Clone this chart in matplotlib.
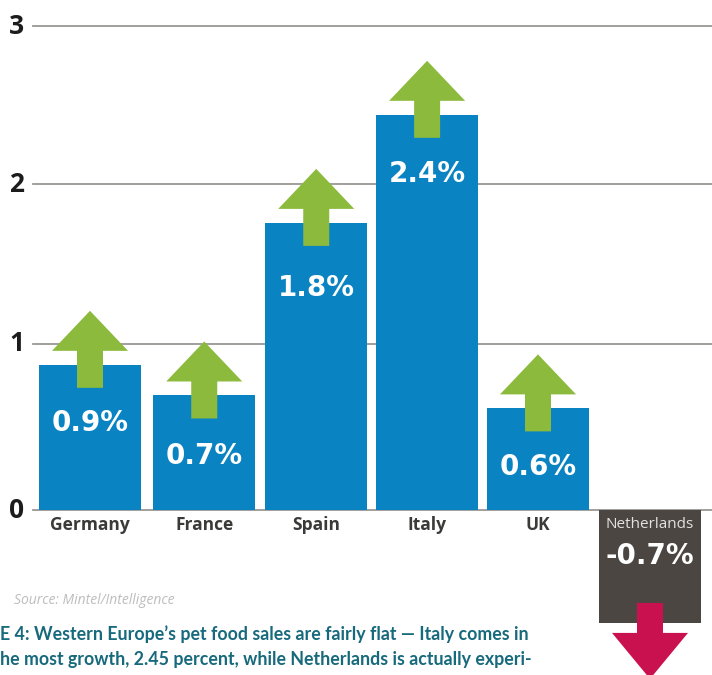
"""Western Europe pet food sales growth, bars with up/down arrows."""

import matplotlib

matplotlib.use("Agg")
import matplotlib.pyplot as plt

WIDTH, HEIGHT = 712, 675

countries = ["Germany", "France", "Spain", "Italy", "UK", "Netherlands"]
growth = [0.90, 0.71, 1.78, 2.45, 0.63, -0.70]
growth_labels = ["0.9%", "0.7%", "1.8%", "2.4%", "0.6%", "-0.7%"]
tick_labels = ["0", "1", "2", "3"]
source = "Source: Mintel/Intelligence"
caption = [
    "E 4: Western Europe’s pet food sales are fairly flat — Italy comes in",
    "he most growth, 2.45 percent, while Netherlands is actually experi-",
]

BLUE = "#0a83c2"
GREEN = "#8cba3c"
RED = "#c9114f"
DARK = "#4b4641"
TEAL = "#17697c"

# pixels per unit on each axis, zero sits at y=510, first bar centre at x=90
PX_X = 112.0
PX_Y = 161.3
X0 = 90.0
Y0 = 510.0

# the source picture is a bit uneven, so layout is nudged per item
BAR_SLOTS = [0, 1.02, 2.02, 3.01, 4, 5]
GRID_LEVELS = [0, 1.03, 2.02, 3]
LABEL_DROP_PX = [58, 61, 65, 59, 59, 46]


def draw_arrow(ax, x, base, direction, color):
    """Arrow with its shaft anchored on the end of a bar."""
    half_head = 38 / PX_X
    half_shaft = 13 / PX_X
    tail = base - direction * (23 if direction > 0 else 20) / PX_Y
    neck = base + direction * (14 if direction > 0 else 10) / PX_Y
    tip = base + direction * (54 if direction > 0 else 56) / PX_Y
    xs = [x - half_shaft, x - half_shaft, x - half_head, x, x + half_head, x + half_shaft, x + half_shaft]
    ys = [tail, neck, neck, tip, neck, neck, tail]
    ax.fill(xs, ys, color=color, lw=0, zorder=4)


def main():
    fig = plt.figure(figsize=(WIDTH / 100, HEIGHT / 100), dpi=100, facecolor="white")
    ax = fig.add_axes([0, 0, 1, 1])
    ax.set_xlim(-X0 / PX_X, (WIDTH - X0) / PX_X)
    ax.set_ylim(-(HEIGHT - Y0) / PX_Y, Y0 / PX_Y)
    ax.axis("off")

    line_start = -0.51
    for level, label in zip(GRID_LEVELS, tick_labels):
        ax.plot([line_start, ax.get_xlim()[1]], [level, level], color="#9a9794", lw=1.3, zorder=1)
        ax.text(-0.655, level, label, ha="center", va="center", fontsize=19, fontweight="bold",
                family="Open Sans", color="#1c1c1c")

    colors = [BLUE if v >= 0 else DARK for v in growth]
    ax.bar(BAR_SLOTS, growth, width=0.91, color=colors, zorder=2)

    for x, value, text, drop, name in zip(BAR_SLOTS, growth, growth_labels, LABEL_DROP_PX, countries):
        up = value >= 0
        draw_arrow(ax, x, value, 1 if up else -1, GREEN if up else RED)
        text_y = value - drop / PX_Y if up else -drop / PX_Y
        ax.text(x, text_y, text, ha="center", va="center", color="white", fontsize=20, fontweight="bold",
                family="DejaVu Sans", zorder=5)
        if up:
            ax.text(x, -0.09, name, ha="center", va="center", color="#3a3a38", fontsize=12.5,
                    fontweight="bold", family="Open Sans")
        else:
            ax.text(x, -0.09, name, ha="center", va="center", color="#e2e2e2", fontsize=11,
                    family="Open Sans", zorder=5)

    fig.text(14 / WIDTH, 1 - 600 / HEIGHT, source, fontsize=10, style="italic", color="#bdbdbd",
             va="center", family="Open Sans")
    for line, y_px in zip(caption, [634, 660]):
        fig.text(0, 1 - y_px / HEIGHT, line, fontsize=12.8, fontweight="bold", color=TEAL, va="center",
                 family="Lato")

    fig.savefig("out.png", dpi=100)
    plt.close(fig)


if __name__ == "__main__":
    main()
